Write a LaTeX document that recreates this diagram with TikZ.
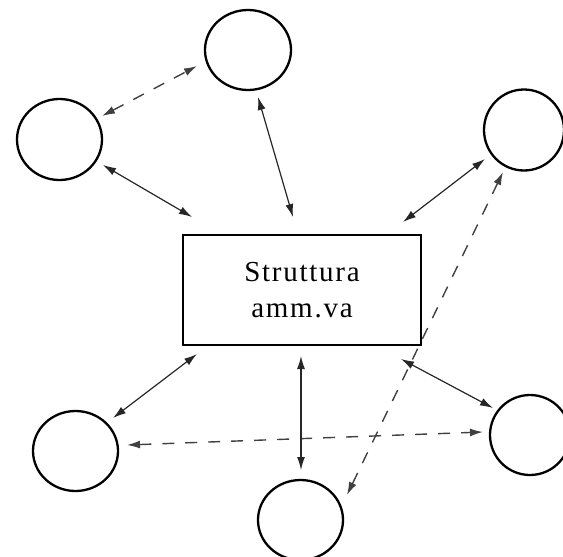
\documentclass[tikz,border=0pt]{standalone}
\usepackage{fontspec}
\newfontfamily\boxfont[LetterSpace=6]{Liberation Serif}
\usetikzlibrary{arrows.meta,shapes.geometric,calc}
\begin{document}
\begin{tikzpicture}[x=1pt,y=-1pt,
  circ/.style={draw,ellipse,line width=2.3pt,inner sep=0pt,minimum width=85pt,minimum height=80pt},
  mainbox/.style={draw,rectangle,line width=2pt,minimum width=238pt,minimum height=110pt,inner sep=0pt,align=center,font=\boxfont\fontsize{29}{36}\selectfont},
  biarrow/.style={line width=1.2pt,black!85,{Latex[length=13pt,width=8pt]}-{Latex[length=13pt,width=8pt]}},
  dasharrow/.style={biarrow,line width=1.4pt,black!75,dash pattern=on 12pt off 11pt}]
\useasboundingbox (0,0) rectangle (563,557);
\node[mainbox] (box) at (302,290) {Struttura\\amm.va};
\node[circ,minimum width=86pt] (top) at (248,50) {};
\node[circ,minimum height=81pt] (lu) at (59.5,139.5) {};
\node[circ,minimum width=80pt,minimum height=81pt] (ru) at (524,130) {};
\node[circ] (ll) at (75.5,451) {};
\node[circ,minimum width=80pt] (rl) at (530,435) {};
\node[circ] (bot) at (300.5,520) {};
% connectors
\draw[dasharrow] ($(lu)+(42.5,-23.5)$) -- ($(top)+(-51,16)$);
\draw[biarrow] ($(lu)+(43.5,25.5)$) -- ($(box.north west)+(10,-17)$);
\draw[biarrow] ($(top)+(10,47)$) -- ($(box.north)+(-9,-17)$);
\draw[biarrow] ($(ru)+(-39,29)$) -- ($(box.north east)+(-19,-12)$);
\draw[dasharrow] ($(ru)+(-21,42)$) -- ($(bot)+(46.5,-25)$);
\draw[biarrow] ($(ll)+(37.5,-33)$) -- ($(box.south west)+(15,8)$);
\draw[dasharrow] ($(ll)+(51.5,-6)$) -- ($(rl)+(-47,-3)$);
\draw[biarrow] ($(box.south)+(-1,10)$) -- ($(bot)+(0.5,-50)$);
\draw[biarrow] ($(box.south east)+(-21,13)$) -- ($(rl)+(-37,-27)$);
\end{tikzpicture}
\end{document}
